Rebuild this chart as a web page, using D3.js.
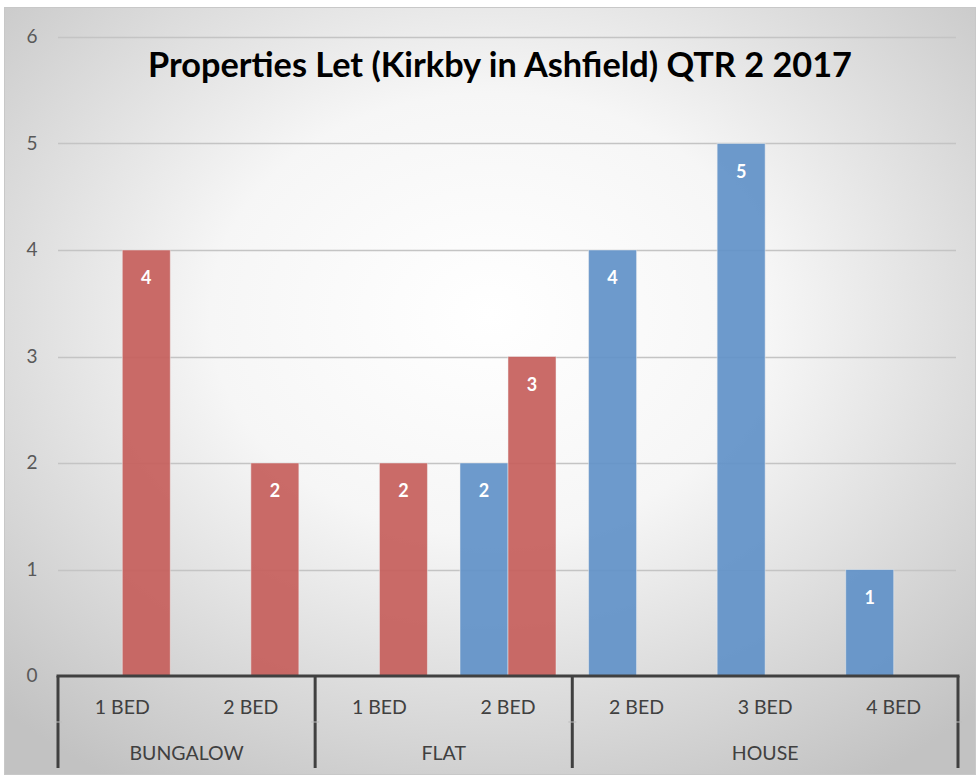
<!DOCTYPE html>
<html>
<head>
<meta charset="utf-8">
<script src="https://cdn.jsdelivr.net/npm/d3@7"></script>
<style>
  body { margin: 0; background: #fff; }
  text { font-family: Lato, "Open Sans", sans-serif; }
</style>
</head>
<body>
<div id="chart"></div>
<script>
(function () {
    var width = 979, height = 779;

    // data
    var groups = ["BUNGALOW", "FLAT", "HOUSE"];
    var groupSizes = [2, 2, 3];
    var beds = ["1 BED", "2 BED", "1 BED", "2 BED", "2 BED", "3 BED", "4 BED"];
    var blueValues = [null, null, null, 2, 4, 5, 1];
    var redValues = [4, 2, 2, 3, null, null, null];
    var yTicks = [0, 1, 2, 3, 4, 5, 6];

    var margin = {left: 58, right: 21, top: 37, bottom: 103};

    var svg = d3.select("#chart")
        .append("svg")
        .attr("width", width)
        .attr("height", height);

    // background gradient
    var defs = svg.append("defs");
    var grad = defs.append("radialGradient")
        .attr("id", "bg")
        .attr("cx", "50%").attr("cy", "40%").attr("r", "72%");
    grad.append("stop").attr("offset", "0%").attr("stop-color", "#ffffff");
    grad.append("stop").attr("offset", "40%").attr("stop-color", "#f6f6f6");
    grad.append("stop").attr("offset", "100%").attr("stop-color", "#c2c2c2");

    svg.append("rect")
        .attr("x", 4.5).attr("y", 7.5)
        .attr("width", 971).attr("height", 767)
        .attr("fill", "url(#bg)")
        .attr("stroke", "#c8c8c8");

    var keys = d3.range(beds.length);

    var x = d3.scaleBand()
        .domain(keys)
        .range([margin.left, width - margin.right]);

    var y = d3.scaleLinear()
        .domain([0, 6])
        .range([height - margin.bottom, margin.top]);

    var barW = 48;

    // gridlines
    svg.append("g")
        .selectAll("line")
        .data(yTicks.slice(1))
        .enter().append("line")
        .attr("x1", margin.left)
        .attr("x2", width - margin.right - 2)
        .attr("y1", function (d) { return Math.round(y(d)) + 0.5; })
        .attr("y2", function (d) { return Math.round(y(d)) + 0.5; })
        .attr("stroke", "#c4c4c4")
        .attr("stroke-width", 1.3);

    // y labels
    svg.append("g")
        .selectAll("text")
        .data(yTicks)
        .enter().append("text")
        .attr("x", 32)
        .attr("y", function (d) { return y(d) + 6; })
        .attr("text-anchor", "middle")
        .attr("font-size", 19)
        .attr("fill", "#595959")
        .text(function (d) { return d; });

    // bars
    function drawSeries(values, color, offset) {
        var data = keys.filter(function (i) { return values[i] != null; });
        var g = svg.append("g");
        g.selectAll("rect")
            .data(data)
            .enter().append("rect")
            .attr("x", function (i) { return x(i) + x.bandwidth() / 2 + offset; })
            .attr("y", function (i) { return y(values[i]); })
            .attr("width", barW)
            .attr("height", function (i) { return y(0) - y(values[i]); })
            .attr("fill", color)
            .attr("fill-opacity", 0.92)
            .attr("stroke", "#f2f2f2")
            .attr("stroke-opacity", 0.5)
            .attr("stroke-width", 1);
        g.selectAll("text")
            .data(data)
            .enter().append("text")
            .attr("x", function (i) { return x(i) + x.bandwidth() / 2 + offset + barW / 2; })
            .attr("y", function (i) { return y(values[i]) + 34; })
            .attr("text-anchor", "middle")
            .attr("font-size", 18)
            .attr("font-weight", "bold")
            .attr("fill", "#ffffff")
            .text(function (i) { return values[i]; });
    }
    drawSeries(blueValues, "#6191c8", -barW);
    drawSeries(redValues, "#c65e5b", 0);

    // axis line
    var axisY = y(0);
    svg.append("line")
        .attr("x1", margin.left - 1.5).attr("x2", width - margin.right + 1.5)
        .attr("y1", axisY).attr("y2", axisY)
        .attr("stroke", "#404040").attr("stroke-width", 3);

    // group dividers
    var bounds = [0];
    groupSizes.forEach(function (n, i) { bounds.push(bounds[i] + n); });
    var step = x.step();
    svg.append("g")
        .selectAll("line")
        .data(bounds)
        .enter().append("line")
        .attr("x1", function (b) { return margin.left + b * step; })
        .attr("x2", function (b) { return margin.left + b * step; })
        .attr("y1", axisY)
        .attr("y2", 768)
        .attr("stroke", "#404040")
        .attr("stroke-width", 3);

    // faint level separators
    svg.append("g")
        .selectAll("line")
        .data(bounds)
        .enter().append("line")
        .attr("x1", function (b) { return margin.left + b * step - 4; })
        .attr("x2", function (b) { return margin.left + b * step + 4; })
        .attr("y1", 722).attr("y2", 722)
        .attr("stroke", "#bdbdbd");

    // bed labels
    svg.append("g")
        .selectAll("text")
        .data(keys)
        .enter().append("text")
        .attr("x", function (i) { return x(i) + x.bandwidth() / 2; })
        .attr("y", 714)
        .attr("text-anchor", "middle")
        .attr("font-size", 19.5)
        .attr("fill", "#404040")
        .text(function (i) { return beds[i]; });

    // group labels
    svg.append("g")
        .selectAll("text")
        .data(groups)
        .enter().append("text")
        .attr("x", function (d, i) { return margin.left + (bounds[i] + bounds[i + 1]) / 2 * step; })
        .attr("y", 760)
        .attr("text-anchor", "middle")
        .attr("font-size", 19.5)
        .attr("fill", "#404040")
        .text(function (d) { return d; });

    // title
    svg.append("text")
        .attr("x", 500)
        .attr("y", 77)
        .attr("text-anchor", "middle")
        .attr("font-size", 34)
        .attr("font-weight", "bold")
        .attr("fill", "#000")
        .attr("textLength", 704)
        .attr("lengthAdjust", "spacingAndGlyphs")
        .text("Properties Let (Kirkby in Ashfield) QTR 2 2017");
})();
</script>
</body>
</html>
